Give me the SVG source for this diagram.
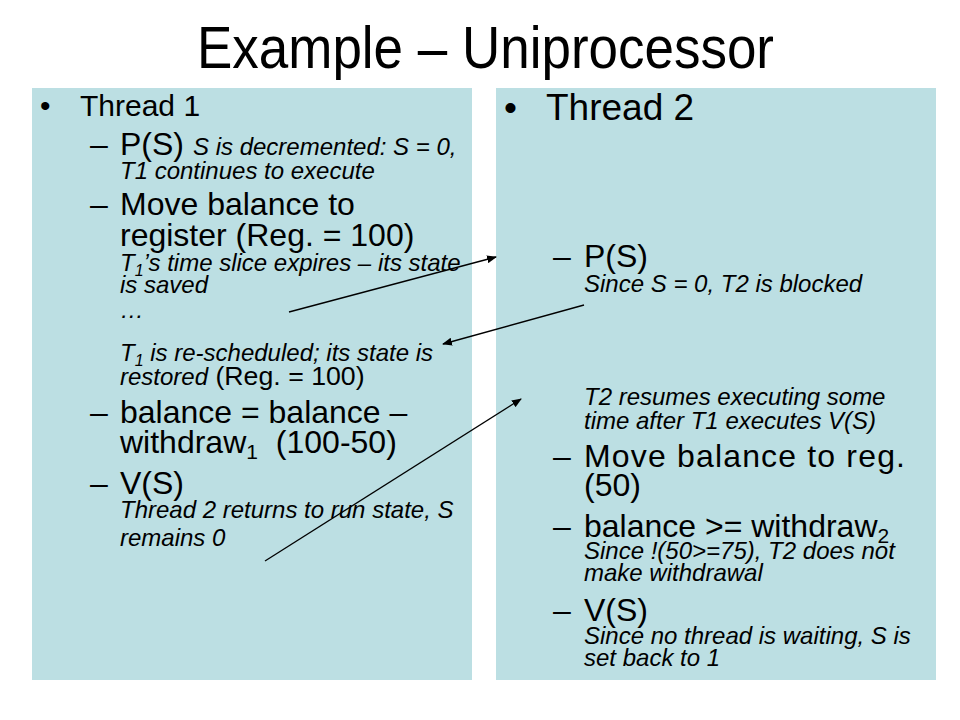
<svg xmlns="http://www.w3.org/2000/svg" width="960" height="720" viewBox="0 0 960 720">
<defs>
<style>
text{font-family:"Liberation Sans",Arial,sans-serif;fill:#000}
.t{font-size:58.7px}
.h1{font-size:30px}
.h2{font-size:37px}
.b{font-size:32px}
.i{font-size:24px;font-style:italic}
.m{font-size:26.7px}
.panel{fill:#BCDFE3}
.conn{stroke:#000;stroke-width:1.3;fill:none}
</style>
<marker id="ah" viewBox="0 0 10 8" refX="9" refY="4" markerWidth="10" markerHeight="8" markerUnits="userSpaceOnUse" orient="auto">
<path d="M0,0 L10,4 L0,8 z" fill="#000"/>
</marker>
</defs>
<rect width="960" height="720" fill="#fff"/>
<g id="title">
<text class="t" x="197" y="68" textLength="577" lengthAdjust="spacingAndGlyphs">Example – Uniprocessor</text>
</g>
<g id="thread1">
<rect class="panel" x="32" y="88" width="440" height="592"/>
<text class="h1" x="40" y="116">•</text>
<text class="h1" x="80" y="116">Thread 1</text>
<text class="b" x="90" y="155">–</text>
<text class="b" x="120" y="155">P(S)</text>
<text class="i" x="193" y="155">S is decremented: S = 0,</text>
<text class="i" x="120" y="179">T1 continues to execute</text>
<text class="b" x="90" y="215">–</text>
<text class="b" x="120" y="215">Move balance to</text>
<text class="b" x="120" y="246">register (Reg. = 100)</text>
<text class="i" x="120" y="271">T<tspan font-size="16" dy="5">1</tspan><tspan dy="-5">’s time slice expires – its state</tspan></text>
<text class="i" x="120" y="293">is saved</text>
<text class="i" x="120" y="318">…</text>
<text class="i" x="120" y="361">T<tspan font-size="16" dy="5">1</tspan><tspan dy="-5"> is re-scheduled; its state is</tspan></text>
<text x="120" y="385"><tspan class="i">restored</tspan><tspan class="m"> (Reg. = 100)</tspan></text>
<text class="b" x="90" y="423">–</text>
<text class="b" x="120" y="423">balance = balance –</text>
<text class="b" x="120" y="453">withdraw<tspan font-size="21" dy="6">1</tspan><tspan dy="-6" dx="9"> (100-50)</tspan></text>
<text class="b" x="90" y="494">–</text>
<text class="b" x="120" y="494">V(S)</text>
<text class="i" x="120" y="518">Thread 2 returns to run state, S</text>
<text class="i" x="120" y="546">remains 0</text>
</g>
<g id="thread2">
<rect class="panel" x="496" y="88" width="440" height="592"/>
<text class="h2" x="504" y="120">•</text>
<text class="h2" x="546" y="120">Thread 2</text>
<text class="b" x="553" y="267">–</text>
<text class="b" x="584" y="267">P(S)</text>
<text class="i" x="584" y="292">Since S = 0, T2 is blocked</text>
<text class="i" x="584" y="405">T2 resumes executing some</text>
<text class="i" x="584" y="429">time after T1 executes V(S)</text>
<text class="b" x="553" y="467">–</text>
<text class="b" x="584" y="467" textLength="321" lengthAdjust="spacing">Move balance to reg.</text>
<text class="b" x="584" y="496">(50)</text>
<text class="b" x="553" y="537">–</text>
<text class="b" x="584" y="537">balance &gt;= withdraw<tspan font-size="21" dy="6">2</tspan></text>
<text class="i" x="584" y="559">Since !(50&gt;=75), T2 does not</text>
<text class="i" x="584" y="581">make withdrawal</text>
<text class="b" x="553" y="621">–</text>
<text class="b" x="584" y="621">V(S)</text>
<text class="i" x="584" y="644">Since no thread is waiting, S is</text>
<text class="i" x="584" y="666">set back to 1</text>
</g>
<g id="connectors">
<line class="conn" x1="289" y1="312" x2="496" y2="257" marker-end="url(#ah)"/>
<line class="conn" x1="584" y1="305" x2="443" y2="344" marker-end="url(#ah)"/>
<line class="conn" x1="265" y1="561" x2="521" y2="399" marker-end="url(#ah)"/>
</g>
</svg>
